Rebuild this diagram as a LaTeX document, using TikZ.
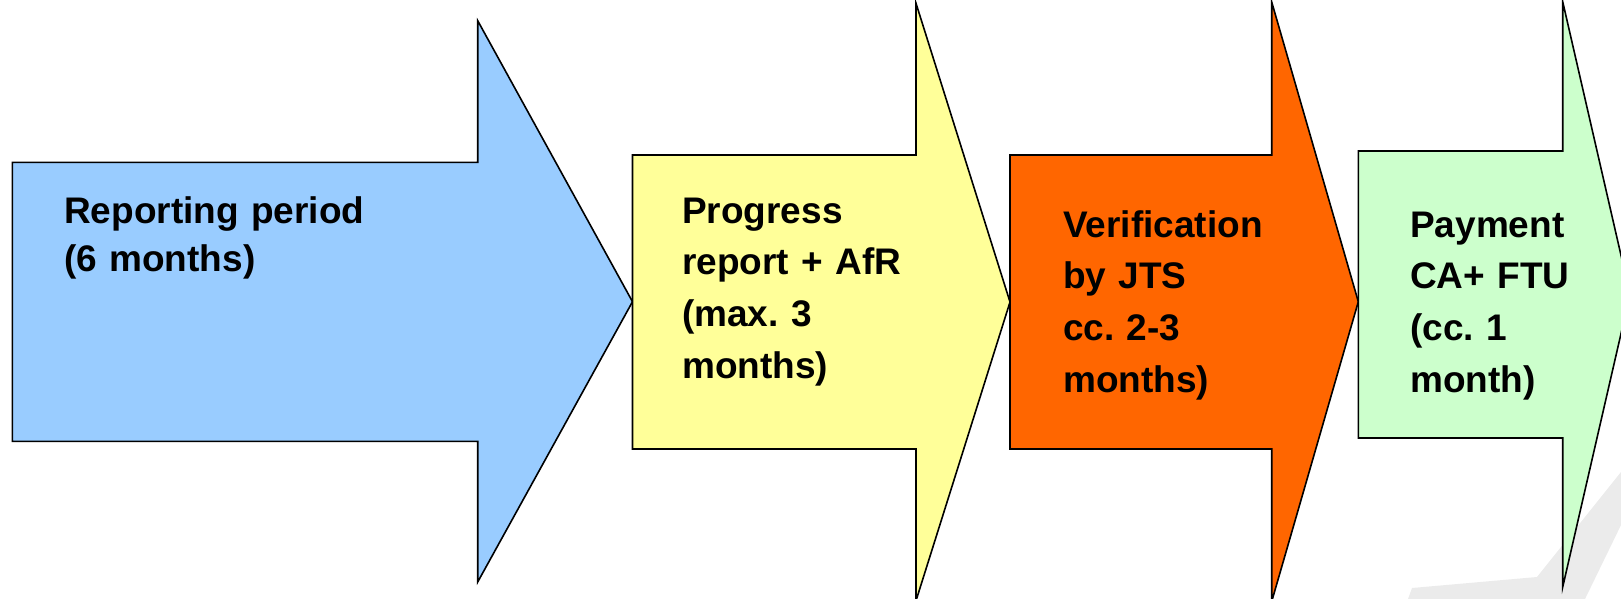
\documentclass[tikz,border=0pt]{standalone}
\usepackage{fontspec}
\setmainfont{Liberation Sans}
\usepackage{tikz}
\usepackage{xcolor}
\frenchspacing
\definecolor{periodblue}{HTML}{99CCFF}
\definecolor{reportyellow}{HTML}{FFFF99}
\definecolor{checkorange}{HTML}{FF6600}
\definecolor{paygreen}{HTML}{CCFFCC}
\definecolor{markgray}{HTML}{EBEBEB}
\tikzstyle{stage} = [draw=black, line width=1.6pt, line join=miter]
\tikzstyle{stagetext} = [anchor=base west, inner sep=0pt, text width=12cm, align=left,
font=\bfseries\fontsize{37}{51.7}\selectfont]

\begin{document}
\begin{tikzpicture}[x=1pt, y=-1pt]
            \useasboundingbox (0,0) rectangle (1621,599);
            % faint mark in the corner
            \fill[markgray] (1621,472) -- (1537,577) -- (1412,588) -- (1408,599) -- (1585,599) -- (1621,525) -- cycle;
            % the four stages
            \draw[stage, fill=periodblue] (12.4,162.3) -- (477.7,162.3) -- (477.7,20.7) -- (632.5,301.7)
                -- (477.7,582) -- (477.7,441.4) -- (12.4,441.4) -- cycle;
            \draw[stage, fill=reportyellow] (632.5,155) -- (916,155) -- (916,3.3) -- (1010,302)
                -- (916,600.7) -- (916,449) -- (632.5,449) -- cycle;
            \draw[stage, fill=checkorange] (1010,155) -- (1271.7,155) -- (1271.7,2) -- (1358.3,301.7)
                -- (1271.7,601.5) -- (1271.7,449) -- (1010,449) -- cycle;
            \draw[stage, fill=paygreen] (1358.3,151) -- (1562.7,151) -- (1562.7,1.7) -- (1630,294.5)
                -- (1562.7,587) -- (1562.7,438) -- (1358.3,438) -- cycle;
            % texts
            \node(period) [stagetext, font=\bfseries\fontsize{37}{48.6}\selectfont] at (64,223) {Reporting period\\(6 months)};
            \node(report) [stagetext] at (682,223) {Progress\\report + AfR\\(max. 3\\months)};
            \node(check) [stagetext] at (1063,237) {Verification\\by JTS\\cc. 2-3\\months)};
            \node(pay) [stagetext] at (1410,237) {Payment\\CA+ FTU\\(cc. 1\\month)};
        \end{tikzpicture}
\end{document}
